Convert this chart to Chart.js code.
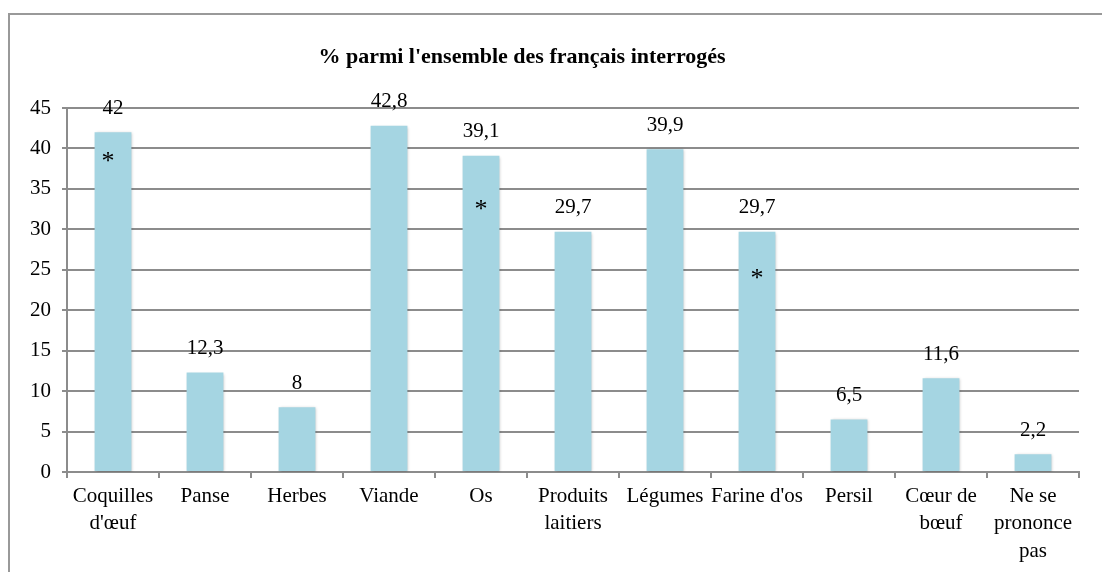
<!DOCTYPE html>
<html>
<head>
<meta charset="utf-8">
<script src="https://cdn.jsdelivr.net/npm/chart.js@4/dist/chart.umd.min.js"></script>
<style>
    body { margin: 0; background: #fff; }
    #wrap { position: relative; width: 1102px; height: 572px; }
</style>
</head>
<body>
<div id="wrap"><canvas id="chart" width="1102" height="572"></canvas></div>
<script>
const categories = [
    ["Coquilles", "d'œuf"], "Panse", "Herbes", "Viande", "Os",
    ["Produits", "laitiers"], "Légumes", "Farine d'os", "Persil",
    ["Cœur de", "bœuf"], ["Ne se", "prononce", "pas"]
];
const values = [42, 12.3, 8, 42.8, 39.1, 29.7, 39.9, 29.7, 6.5, 11.6, 2.2];
// asterisk marks drawn inside some bars (null = none), in axis units
const asteriskLevels = [38.9, null, null, null, 33, null, null, 24.4, null, null, null];
const yTicks = [0, 5, 10, 15, 20, 25, 30, 35, 40, 45];
const chartTitle = "% parmi l'ensemble des français interrogés";

const serif = "'Liberation Serif', 'Times New Roman', serif";
const gridColor = "#8c8c8c";

// frame + title
const framePlugin = {
    id: "frame",
    beforeDraw(chart) {
        const ctx = chart.ctx;
        ctx.save();
        ctx.fillStyle = "#fff";
        ctx.fillRect(0, 0, chart.width, chart.height);
        ctx.strokeStyle = "#999";
        ctx.lineWidth = 2;
        ctx.strokeRect(9, 14, chart.width + 20, chart.height + 20);
        ctx.fillStyle = "#000";
        ctx.font = "bold 22px " + serif;
        ctx.textAlign = "center";
        ctx.textBaseline = "middle";
        ctx.fillText(chartTitle, 522, 57);
        ctx.restore();
    }
};

// bar shadow
const shadowPlugin = {
    id: "barShadow",
    beforeDatasetsDraw(chart) {
        const ctx = chart.ctx;
        ctx.save();
        ctx.shadowColor = "rgba(0,0,0,0.25)";
        ctx.shadowBlur = 3;
        ctx.shadowOffsetX = 1;
        ctx.shadowOffsetY = 1;
    },
    afterDatasetsDraw(chart) {
        chart.ctx.restore();
    }
};

// value labels and asterisks
const labelPlugin = {
    id: "valueLabels",
    afterDatasetsDraw(chart) {
        const ctx = chart.ctx;
        const meta = chart.getDatasetMeta(0);
        const yScale = chart.scales.y;
        ctx.save();
        ctx.fillStyle = "#000";
        ctx.textAlign = "center";
        ctx.textBaseline = "middle";
        meta.data.forEach((bar, i) => {
            ctx.font = "21px " + serif;
            const txt = String(values[i]).replace(".", ",");
            ctx.fillText(txt, bar.x, bar.y - 24);
            if (asteriskLevels[i] !== null) {
                ctx.font = "26px " + serif;
                ctx.fillText("*", bar.x - (i === 0 ? 5 : 0), yScale.getPixelForValue(asteriskLevels[i]) + 5);
            }
        });
        ctx.restore();
    }
};

new Chart(document.getElementById("chart").getContext("2d"), {
    type: "bar",
    data: {
        labels: categories,
        datasets: [{
            data: values,
            backgroundColor: "#a5d5e2",
            borderWidth: 0,
            categoryPercentage: 1,
            barPercentage: 0.4
        }]
    },
    options: {
        responsive: false,
        animation: false,
        layout: { padding: { left: 10, right: 23, top: 108, bottom: 0 } },
        plugins: {
            legend: { display: false },
            title: { display: false },
            tooltip: { enabled: false }
        },
        scales: {
            x: {
                grid: {
                    offset: true,
                    drawOnChartArea: false,
                    drawTicks: true,
                    tickLength: 6,
                    color: gridColor,
                    lineWidth: 2
                },
                border: { color: gridColor, width: 2 },
                ticks: {
                    color: "#000",
                    font: { family: serif, size: 21, lineHeight: 1.3 },
                    padding: 5,
                    maxRotation: 0,
                    autoSkip: false
                },
                afterFit(scale) { scale.height = 100; }
            },
            y: {
                min: 0,
                max: 45,
                afterBuildTicks(scale) { scale.ticks = yTicks.map(v => ({ value: v })); },
                grid: {
                    color: gridColor,
                    lineWidth: 2,
                    tickLength: 5
                },
                border: { color: gridColor, width: 2 },
                ticks: {
                    color: "#000",
                    font: { family: serif, size: 21 },
                    padding: 11
                },
                afterFit(scale) { scale.width = 57; }
            }
        }
    },
    plugins: [framePlugin, shadowPlugin, labelPlugin]
});
</script>
</body>
</html>
